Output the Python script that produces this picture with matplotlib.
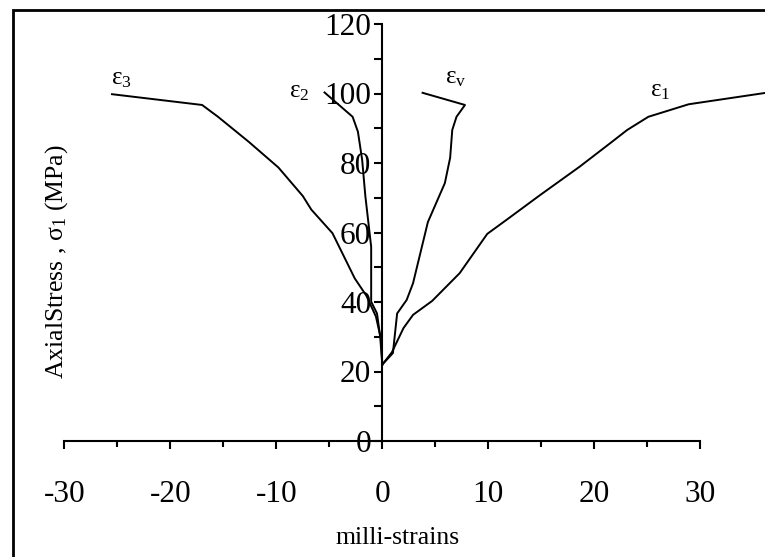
import numpy as np
import matplotlib.pyplot as plt
from matplotlib.patches import Rectangle
from matplotlib.ticker import MultipleLocator

plt.rcParams['font.family'] = ['Liberation Serif', 'DejaVu Serif']
plt.rcParams['mathtext.fontset'] = 'custom'
plt.rcParams['mathtext.rm'] = 'Liberation Serif'
plt.rcParams['mathtext.it'] = 'Liberation Serif'
plt.rcParams['axes.unicode_minus'] = False

# strain curves (milli-strains) vs axial stress (MPa)
e1_x = [0, 0.9, 2.0, 2.9, 4.7, 7.3, 9.9, 11.7, 14.9, 18.6, 21.5, 23.1, 25.1, 28.9, 36.2]
e1_y = [22, 25.5, 32.5, 36.3, 40.3, 48.3, 59.6, 63.6, 70.8, 78.9, 85.7, 89.5, 93.3, 96.9, 100.2]

ev_x = [0, 1.0, 1.4, 2.3, 2.9, 4.3, 5.9, 6.4, 6.6, 7.0, 7.8, 3.8]
ev_y = [22, 25.3, 36.7, 40.6, 45.4, 63.0, 74.2, 81.5, 89.5, 93.3, 96.7, 100.2]

e2_x = [0, -0.2, -0.5, -1.05, -1.05, -1.6, -1.9, -2.3, -2.8, -5.45]
e2_y = [22, 30, 36.7, 40.1, 55.9, 70.5, 80.9, 89.0, 93.3, 100.3]

e3_x = [0, -0.1, -0.6, -1.5, -2.6, -4.7, -6.7, -7.5, -9.8, -12.6, -15.5, -17.0, -25.5]
e3_y = [22, 29, 35.8, 41.8, 46.8, 59.8, 66.6, 70.5, 78.7, 86.1, 93.3, 96.7, 99.8]

labels = ['ε$_3$', 'ε$_2$', 'ε$_v$', 'ε$_1$']
label_x = [-24.6, -7.8, 6.9, 26.2]
label_y = [104.2, 100.3, 104.5, 100.7]

fig = plt.figure(figsize=(7.65, 5.57), dpi=100)
ax = fig.add_axes([64.3 / 765, 116 / 557, 636 / 765, 417 / 557])

for xs, ys in [(e1_x, e1_y), (ev_x, ev_y), (e2_x, e2_y), (e3_x, e3_y)]:
    ax.plot(xs, ys, color='black', lw=1.4, clip_on=False)

for t, x, y in zip(labels, label_x, label_y):
    ax.text(x, y, t, fontsize=18, ha='center', va='center')

ax.set_xlim(-30, 30)
ax.set_ylim(0, 120)
ax.spines['left'].set_position(('data', 0))
ax.spines['bottom'].set_position(('data', 0))
ax.spines['top'].set_visible(False)
ax.spines['right'].set_visible(False)
ax.spines['left'].set_linewidth(1.5)
ax.spines['bottom'].set_linewidth(1.5)

ax.xaxis.set_major_locator(MultipleLocator(10))
ax.xaxis.set_minor_locator(MultipleLocator(5))
ax.yaxis.set_major_locator(MultipleLocator(20))
ax.yaxis.set_minor_locator(MultipleLocator(10))
ax.tick_params(axis='x', which='major', direction='out', length=6, width=1.5, pad=22, labelsize=22.5)
ax.tick_params(axis='x', which='minor', direction='out', length=4.5, width=1.5)
ax.tick_params(axis='y', which='both', direction='out', length=6, width=1.5, pad=2, labelsize=22.5)
ax.patch.set_alpha(0)

fig.text(398 / 765, 1 - 538 / 557, 'milli-strains', fontsize=18.5, ha='center', va='center')
fig.text(57 / 765, 1 - 262 / 557, r'AxialStress , σ$_1$ (MPa)', fontsize=18.5,
         rotation=90, ha='center', va='center')

# frame around the figure (cut at right and bottom edge)
fig.patches.append(Rectangle((13 / 765, -0.05), 1.1, 1 - 10 / 557 + 0.05,
                             transform=fig.transFigure, fill=False, lw=2, ec='black'))

fig.savefig('out.png', dpi=100)
